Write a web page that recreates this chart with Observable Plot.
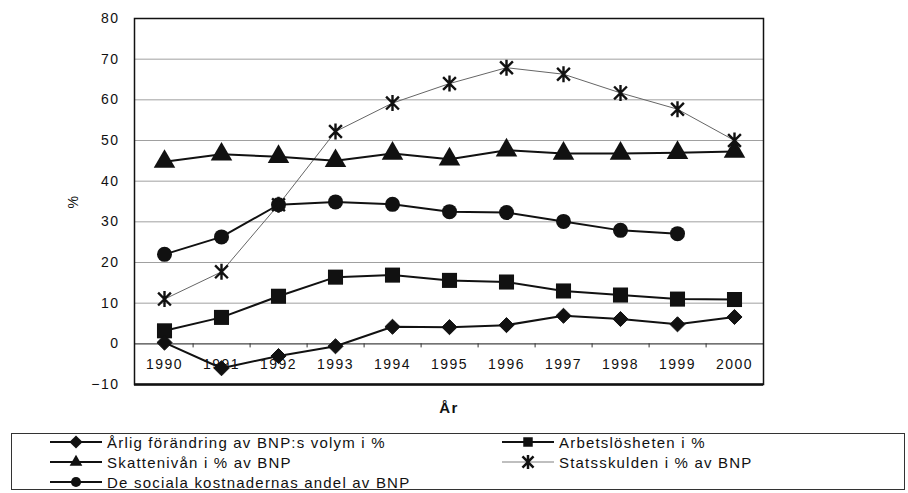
<!DOCTYPE html>
<html>
<head>
<meta charset="utf-8">
<script src="https://cdn.jsdelivr.net/npm/d3@7"></script>
<script src="https://cdn.jsdelivr.net/npm/@observablehq/plot@0.6"></script>
<style>
  html, body { margin: 0; padding: 0; background: #fff; }
  body { width: 908px; height: 493px; position: relative; overflow: hidden; font-family: "Liberation Sans", Arial, sans-serif; }
  #chart { position: absolute; left: 0; top: 0; }
  #legend { position: absolute; left: 11px; top: 433px; width: 894px; height: 57px; border: 1.5px solid #333; box-sizing: border-box; }
  .item { position: absolute; height: 20px; display: flex; align-items: center; font-size: 15px; letter-spacing: 1.2px; color: #111; white-space: nowrap; }
  .item svg { margin-right: 5px; }
</style>
</head>
<body>
<div id="chart"></div>
<div id="legend"></div>
<script>
const years = [1990, 1991, 1992, 1993, 1994, 1995, 1996, 1997, 1998, 1999, 2000];
const bnpChange    = [0.3, -6.0, -3.0, -0.6, 4.2, 4.1, 4.6, 6.9, 6.1, 4.8, 6.6];
const unemployment = [3.2, 6.5, 11.7, 16.4, 16.9, 15.6, 15.2, 13.0, 12.0, 11.0, 10.9];
const taxLevel     = [44.8, 46.6, 46.0, 45.0, 46.8, 45.4, 47.6, 46.8, 46.8, 47.0, 47.3];
const socialCosts  = [22.0, 26.3, 34.2, 34.9, 34.3, 32.5, 32.3, 30.1, 27.9, 27.1, null];
const stateDebt    = [11.0, 17.7, 34.2, 52.2, 59.2, 64.0, 67.9, 66.3, 61.7, 57.7, 50.0];
const yTicks = [-10, 0, 10, 20, 30, 40, 50, 60, 70, 80];
const gridTicks = [10, 20, 30, 40, 50, 60, 70];

const seriesNames = [
  "Årlig förändring av BNP:s volym i %",
  "Arbetslösheten i %",
  "Skattenivån i % av BNP",
  "Statsskulden i % av BNP",
  "De sociala kostnadernas andel av BNP"
];

// Excel-like star marker: vertical bar plus X
const starSymbol = {
  draw(ctx, size) {
    const r = Math.sqrt(size / Math.PI);
    const a = r * 0.8;
    ctx.moveTo(0, -r); ctx.lineTo(0, r);
    ctx.moveTo(-a, -a); ctx.lineTo(a, a);
    ctx.moveTo(-a, a); ctx.lineTo(a, -a);
  }
};

const toRows = (vals) => years.map((yr, i) => ({year: yr, value: vals[i]})).filter(d => d.value != null);
const bnpRows = toRows(bnpChange);
const unRows = toRows(unemployment);
const taxRows = toRows(taxLevel);
const socRows = toRows(socialCosts);
const debtRows = toRows(stateDebt);

const chart = Plot.plot({
  width: 908,
  height: 430,
  marginLeft: 134,
  marginRight: 145,
  marginTop: 18,
  marginBottom: 46,
  x: {type: "point", domain: years, padding: 0.5},
  y: {domain: [-10, 80]},
  style: {fontFamily: "'Liberation Sans', Arial, sans-serif", fontSize: "14px", color: "#111", background: "white", letterSpacing: "1.5px"},
  marks: [
    Plot.gridY(gridTicks, {stroke: "#a0a0a0", strokeOpacity: 1, strokeWidth: 1}),
    Plot.ruleY([0], {stroke: "#444", strokeWidth: 1.2}),
    Plot.ruleX(years.slice(0, -1), {x: d => d, y1: 0, y2: -1, dx: 28.6, stroke: "#333"}),
    Plot.frame({stroke: "#111", strokeWidth: 1.5}),
    Plot.ruleY([-10], {stroke: "#111", strokeWidth: 2.5}),
    Plot.axisY({ticks: yTicks, tickSize: 0, tickPadding: 15, label: "%", labelAnchor: "center", labelOffset: 66, labelArrow: "none", fontSize: 14}),
    Plot.axisX({anchor: "bottom", tickSize: 0, tickPadding: 0, dy: -25, label: null, fontSize: 14, tickFormat: d => String(d)}),
    Plot.text(["År"], {frameAnchor: "bottom", dy: 28, text: d => d, fontWeight: "bold", fontSize: 15}),
    // Statsskulden (thin grey line, star markers)
    Plot.line(debtRows, {x: "year", y: "value", stroke: "#666", strokeWidth: 1}),
    // other series
    Plot.line(taxRows, {x: "year", y: "value", stroke: "#111", strokeWidth: 2}),
    Plot.line(socRows, {x: "year", y: "value", stroke: "#111", strokeWidth: 2}),
    Plot.line(unRows, {x: "year", y: "value", stroke: "#111", strokeWidth: 2}),
    Plot.line(bnpRows, {x: "year", y: "value", stroke: "#111", strokeWidth: 2}),
    Plot.dot(taxRows, {x: "year", y: "value", symbol: "triangle", r: 8, fill: "#111"}),
    Plot.dot(socRows, {x: "year", y: "value", symbol: "circle", r: 7.5, fill: "#111"}),
    Plot.dot(unRows, {x: "year", y: "value", symbol: "square", r: 8.5, fill: "#111"}),
    Plot.dot(bnpRows, {x: "year", y: "value", symbol: "diamond2", r: 6.8, fill: "#111", stroke: "#111", strokeWidth: 1}),
    Plot.dot(debtRows, {x: "year", y: "value", symbol: starSymbol, r: 8, stroke: "#111", strokeWidth: 2.4})
  ]
});
document.getElementById("chart").appendChild(chart);

// Legend
const legend = document.getElementById("legend");
const legendItems = [
  {name: seriesNames[0], sym: d3.symbolDiamond2, size: 110, grey: false, left: 38, top: 0},
  {name: seriesNames[2], sym: d3.symbolTriangle, size: 70, grey: false, left: 38, top: 20},
  {name: seriesNames[4], sym: d3.symbolCircle, size: 80, grey: false, left: 38, top: 40},
  {name: seriesNames[1], sym: d3.symbolSquare, size: 90, grey: false, left: 490, top: 0},
  {name: seriesNames[3], sym: starSymbol, size: 150, grey: true, left: 490, top: 20}
];
legendItems.forEach(it => {
  const div = document.createElement("div");
  div.className = "item";
  div.style.left = it.left + "px";
  div.style.top = (it.top - 2) + "px";
  const w = 52, h = 20;
  const svg = d3.create("svg").attr("width", w).attr("height", h);
  svg.append("line").attr("x1", 0).attr("x2", w).attr("y1", h / 2).attr("y2", h / 2)
    .attr("stroke", it.grey ? "#aaa" : "#111").attr("stroke-width", it.grey ? 1.5 : 2);
  const p = svg.append("path").attr("d", d3.symbol(it.sym, it.size)()).attr("transform", `translate(${w / 2},${h / 2})`);
  if (it.grey) p.attr("fill", "none").attr("stroke", "#111").attr("stroke-width", 2.5);
  else p.attr("fill", "#111");
  div.appendChild(svg.node());
  const span = document.createElement("span");
  span.textContent = it.name;
  div.appendChild(span);
  legend.appendChild(div);
});
</script>
</body>
</html>
